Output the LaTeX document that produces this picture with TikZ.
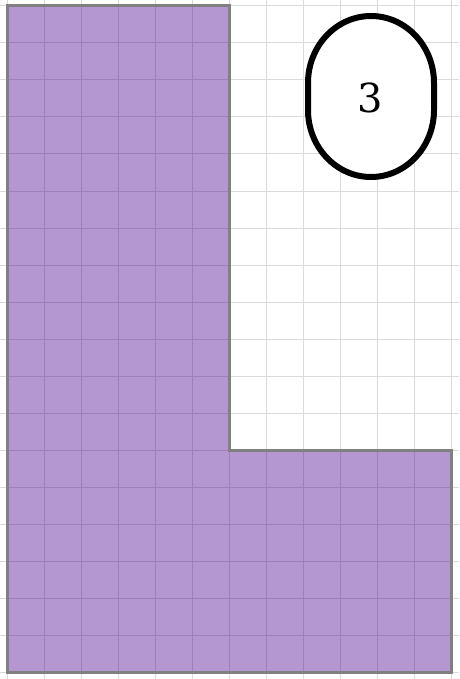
\documentclass[tikz,border=0pt]{standalone}
\usepackage{fontspec}
\newfontfamily\digitfont{DejaVu Serif}
\definecolor{gridgray}{RGB}{218,218,218}
\definecolor{shapefill}{RGB}{180,151,208}
\definecolor{gridin}{RGB}{160,126,190}
\definecolor{edgegray}{RGB}{128,128,128}
\tikzset{
  bggrid/.style={draw=gridgray, line width=1pt},
  ingrid/.style={draw=gridin, line width=1pt},
  lshape/.style={draw=edgegray, line width=3pt, line join=miter},
  badgeline/.style={draw=black, line width=6pt, fill=white},
  badgetext/.style={inner sep=0pt, font=\digitfont\fontsize{40}{40}\selectfont}
}
\begin{document}
\begin{tikzpicture}[x=1pt,y=-1pt]
\useasboundingbox (0,0) rectangle (459,679);
\fill[white] (0,0) rectangle (459,679);
% background grid
\foreach \i in {0,...,12} { \draw[bggrid] (7+37*\i,0) -- (7+37*\i,679); }
\foreach \j in {0,...,18} { \draw[bggrid] (0,6+37*\j) -- (459,6+37*\j); }
% L shape
\coordinate (p1) at (7,6);
\coordinate (p2) at (229,6);
\coordinate (p3) at (229,450);
\coordinate (p4) at (451,450);
\coordinate (p5) at (451,672);
\coordinate (p6) at (7,672);
\fill[shapefill] (p1) -- (p2) -- (p3) -- (p4) -- (p5) -- (p6) -- cycle;
\begin{scope}
\clip (p1) -- (p2) -- (p3) -- (p4) -- (p5) -- (p6) -- cycle;
\foreach \i in {0,...,12} { \draw[ingrid] (7+37*\i,0) -- (7+37*\i,679); }
\foreach \j in {0,...,18} { \draw[ingrid] (0,6+37*\j) -- (459,6+37*\j); }
\end{scope}
\draw[lshape] (p1) -- (p2) -- (p3) -- (p4) -- (p5) -- (p6) -- cycle;
% badge
\draw[badgeline] (308,83) -- (308,110)
  arc[start angle=180, end angle=0, x radius=63, y radius=67] -- (434,83)
  arc[start angle=0, end angle=-180, x radius=63, y radius=67] -- cycle;
\node[badgetext] (b3) at (370,98) {3};
\end{tikzpicture}
\end{document}
